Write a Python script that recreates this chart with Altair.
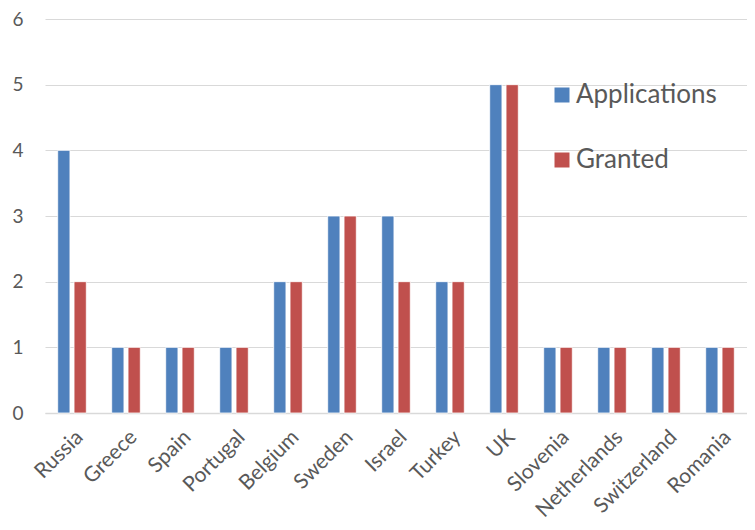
import altair as alt
import pandas as pd

countries = ["Russia", "Greece", "Spain", "Portugal", "Belgium", "Sweden", "Israel",
             "Turkey", "UK", "Slovenia", "Netherlands", "Switzerland", "Romania"]
applications = [4, 1, 1, 1, 2, 3, 3, 2, 5, 1, 1, 1, 1]
granted = [2, 1, 1, 1, 2, 3, 2, 2, 5, 1, 1, 1, 1]
series = ["Applications", "Granted"]
colors = ["#4F81BD", "#C0504D"]

rows = []
for c, a, g in zip(countries, applications, granted):
    rows.append({"country": c, "series": series[0], "value": a})
    rows.append({"country": c, "series": series[1], "value": g})
df = pd.DataFrame(rows)

font = "Lato"
chart = alt.Chart(df).mark_bar(stroke="white", strokeWidth=0.8).encode(
    x=alt.X("country:N", sort=countries, title=None,
            scale=alt.Scale(paddingInner=0.47, paddingOuter=0.235),
            axis=alt.Axis(labelAngle=-45, labelFontSize=21, labelColor="#595959",
                          labelFont=font, ticks=False, domainColor="#D9D9D9",
                          domainWidth=1.5, labelPadding=13)),
    xOffset=alt.XOffset("series:N", sort=series, scale=alt.Scale(paddingInner=0.25)),
    y=alt.Y("value:Q", title=None,
            scale=alt.Scale(domain=[0, 6]),
            axis=alt.Axis(values=[0, 1, 2, 3, 4, 5, 6], labelFontSize=19,
                          labelColor="#595959", labelFont=font, ticks=False,
                          domain=False, gridColor="#D9D9D9", gridWidth=1.2,
                          labelPadding=22)),
    color=alt.Color("series:N", sort=series,
                    scale=alt.Scale(domain=series, range=colors),
                    legend=alt.Legend(title=None, orient="none", legendX=504, legendY=63,
                                      symbolType="square", symbolSize=225,
                                      symbolStrokeWidth=0, labelFontSize=26,
                                      labelColor="#595959", labelFont=font,
                                      rowPadding=39, labelOffset=1)),
).properties(
    width=702, height=394,
    padding={"left": 37, "top": 11, "right": 0, "bottom": 109},
    autosize=alt.AutoSizeParams(type="none"),
).configure_view(stroke=None)

chart.save("out.html", embed_options={"renderer": "svg", "actions": False})
